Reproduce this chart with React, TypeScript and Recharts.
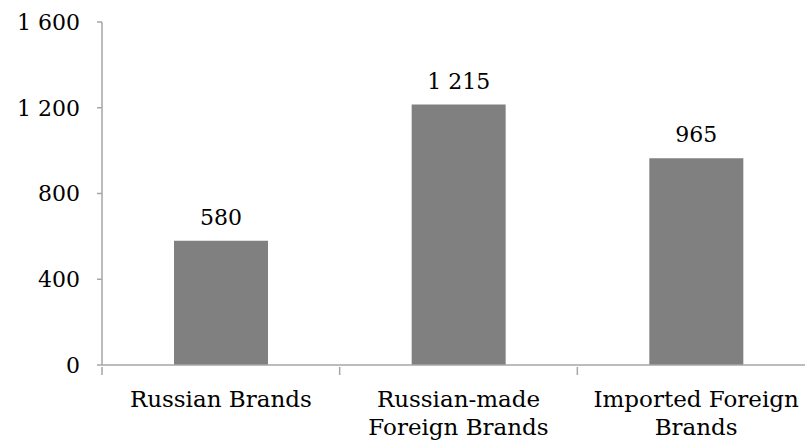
import React from "react";
import { BarChart, Bar, XAxis, YAxis, LabelList } from "recharts";

const categories = ["Russian Brands", "Russian-made Foreign Brands", "Imported Foreign Brands"];
const categoryLines = [["Russian Brands"], ["Russian-made", "Foreign Brands"], ["Imported Foreign", "Brands"]];
const values = [580, 1215, 965];
const yTicks = [0, 400, 800, 1200, 1600];

const data = categories.map((name, i) => ({ name, value: values[i] }));

const FONT = "Georgia, 'DejaVu Serif', serif";
const AXIS = "#a6a6a6";

const fmt = (v: number | string) => String(v).replace(/\B(?=(\d{3})+(?!\d))/g, " ");

function CategoryTick(props: any) {
  const { x, y, payload, index } = props;
  const idx = categories.indexOf(payload.value);
  const lines = categoryLines[idx] || [payload.value];
  const half = payload.offset || 0;
  const isLast = index === categories.length - 1;
  return (
    <g>
      <line x1={x - half} x2={x - half} y1={y} y2={y + 8} stroke={AXIS} strokeWidth={1.5} />
      {isLast && <line x1={x + half} x2={x + half} y1={y} y2={y + 8} stroke={AXIS} strokeWidth={1.5} />}
      <text x={x} y={y + 40} textAnchor="middle" fontSize={23} fontFamily={FONT} fill="#000">
        {lines.map((l, i) => (
          <tspan key={i} x={x} dy={i === 0 ? 0 : 28}>
            {l}
          </tspan>
        ))}
      </text>
    </g>
  );
}

export default function App() {
  return (
    <div style={{ position: "absolute", left: 0, top: 0, width: 805, height: 440, overflow: "hidden", background: "#fff" }}>
      <BarChart width={815} height={440} data={data} margin={{ top: 22, right: 0, bottom: 0, left: 0 }} barSize={94}>
        <YAxis
          domain={[0, 1600]}
          ticks={yTicks}
          width={102}
          tickSize={5}
          tickMargin={17}
          tickFormatter={fmt}
          axisLine={{ stroke: AXIS, strokeWidth: 1.5 }}
          tickLine={{ stroke: AXIS, strokeWidth: 1.5 }}
          tick={{ fill: "#000", fontSize: 22, fontFamily: FONT }}
        />
        <XAxis
          dataKey="name"
          height={75}
          tickLine={false}
          tickSize={0}
          axisLine={{ stroke: AXIS, strokeWidth: 1.5 }}
          tick={<CategoryTick />}
          interval={0}
        />
        <Bar dataKey="value" fill="#808080" isAnimationActive={false}>
          <LabelList dataKey="value" position="top" offset={16} formatter={fmt} fill="#000" fontSize={22} fontFamily={FONT} />
        </Bar>
      </BarChart>
    </div>
  );
}
